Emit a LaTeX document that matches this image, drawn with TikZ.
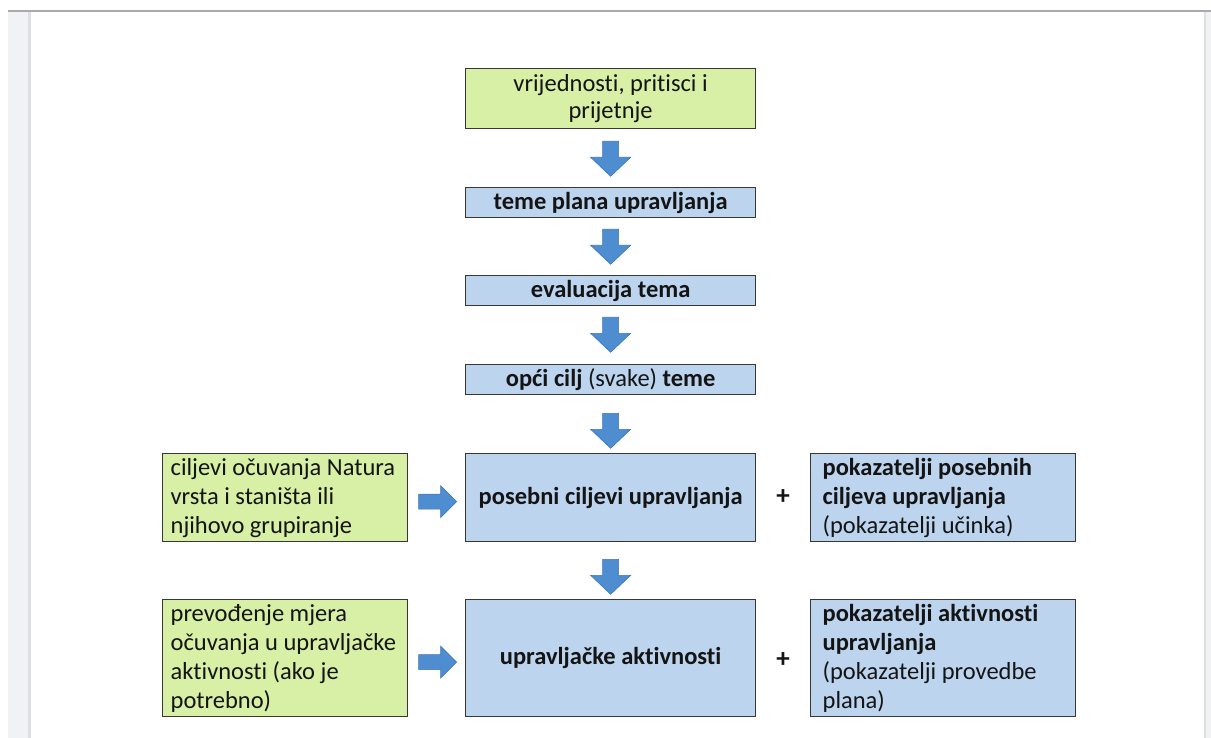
\documentclass[tikz,border=0pt]{standalone}
\usepackage{fontspec}
\setmainfont[Ligatures={NoCommon,NoRare,NoContextual},Contextuals=NoAlternate]{Carlito}
\usetikzlibrary{calc}
\definecolor{greenfill}{RGB}{216,240,166}
\definecolor{bluefill}{RGB}{189,212,238}
\definecolor{bordercol}{RGB}{55,55,55}
\definecolor{arrowcol}{RGB}{78,141,208}
\definecolor{arrowedge}{RGB}{62,118,182}
\definecolor{txt}{RGB}{20,20,20}
\definecolor{stripcol}{RGB}{241,242,244}
\definecolor{stripedge}{RGB}{222,223,226}
\definecolor{topline}{RGB}{170,170,172}
\tikzset{
  box/.style={draw=bordercol, line width=1.3pt, text=txt, inner ysep=0pt,
    font=\fontsize{24.5}{29}\selectfont},
  centerbox/.style={box, minimum width=290pt, inner xsep=0pt, align=flush center, anchor=north west},
  greenbox/.style={fill=greenfill},
  bluebox/.style={fill=bluefill},
  leftbox/.style={box, greenbox, inner xsep=8pt, text width=229pt, align=flush left, anchor=north west},
  rightbox/.style={box, bluebox, inner xsep=12pt, text width=241pt, align=flush left, anchor=north west},
  plussign/.style={font=\fontsize{27}{30}\selectfont\bfseries, text=txt},
  downarr/.pic={
    \filldraw[fill=arrowcol, draw=arrowedge, line width=0.6pt]
      (-8,0) -- (8,0) -- (8,16) -- (20,16) -- (0,35) -- (-20,16) -- (-8,16) -- cycle;
  },
  rightarr/.pic={
    \filldraw[fill=arrowcol, draw=arrowedge, line width=0.6pt]
      (-19,-7.5) -- (3,-7.5) -- (3,-16) -- (19,0) -- (3,16) -- (3,7.5) -- (-19,7.5) -- cycle;
  }
}
\begin{document}
\begin{tikzpicture}[x=1pt,y=-1pt]
\useasboundingbox (0,0) rectangle (1211,738);
% page frame
\fill[white] (0,0) rectangle (1211,738);
\fill[stripcol] (8,11) rectangle (31,738);
\fill[stripedge] (28,11) rectangle (31,738);
\fill[stripcol] (1204,11) rectangle (1211,738);
\fill[stripedge] (1204,11) rectangle (1206,738);
\fill[topline] (8,10) rectangle (1211,12.5);

% central column
\node[centerbox, greenbox, minimum height=60pt, font=\fontsize{24.5}{27}\selectfont] (b1) at (465,68)
  {vrijednosti, pritisci i\\prijetnje};
\node[centerbox, bluebox, minimum height=30pt] (b2) at (465,187) {\textbf{teme plana upravljanja}};
\node[centerbox, bluebox, minimum height=30pt] (b3) at (465,275) {\textbf{evaluacija tema}};
\node[centerbox, bluebox, minimum height=30pt] (b4) at (465,364) {\textbf{opći cilj} (svake) \textbf{teme}};
\node[centerbox, bluebox, minimum height=88pt] (b5) at (465,453) {\textbf{posebni ciljevi upravljanja}};
\node[centerbox, bluebox, minimum height=117pt] (b6) at (465,599) {\textbf{upravljačke aktivnosti}};

% side boxes
\node[leftbox, minimum height=88pt] (l1) at (162,453)
  {ciljevi očuvanja Natura\\vrsta i staništa ili\\njihovo grupiranje};
\node[leftbox, minimum height=117pt] (l2) at (162,599)
  {prevođenje mjera\\očuvanja u upravljačke\\aktivnosti (ako je\\potrebno)};
\node[rightbox, minimum height=88pt] (r1) at (810,453)
  {\textbf{pokazatelji posebnih}\\\textbf{ciljeva upravljanja}\\(pokazatelji učinka)};
\node[rightbox, minimum height=117pt] (r2) at (810,599)
  {\textbf{pokazatelji aktivnosti}\\\textbf{upravljanja}\\(pokazatelji provedbe\\plana)};

% plus signs
\node[plussign] (p1) at ($(b5.east)!0.5!(r1.west)+(0,-1)$) {+};
\node[plussign] (p2) at ($(b6.east)!0.5!(r2.west)+(0,2)$) {+};

% block arrows
\pic at ($(b1.south)+(0,12)$) {downarr};
\pic at ($(b2.south)+(0,11)$) {downarr};
\pic at ($(b3.south)+(0,11)$) {downarr};
\pic at ($(b4.south)+(0,18)$) {downarr};
\pic at ($(b5.south)+(0,17)$) {downarr};
\pic at ($($(l1.east)!0.5!(b5.west)$)+(1,4)$) {rightarr};
\pic at ($($(l2.east)!0.5!(b6.west)$)+(1,4)$) {rightarr};
\end{tikzpicture}
\end{document}
